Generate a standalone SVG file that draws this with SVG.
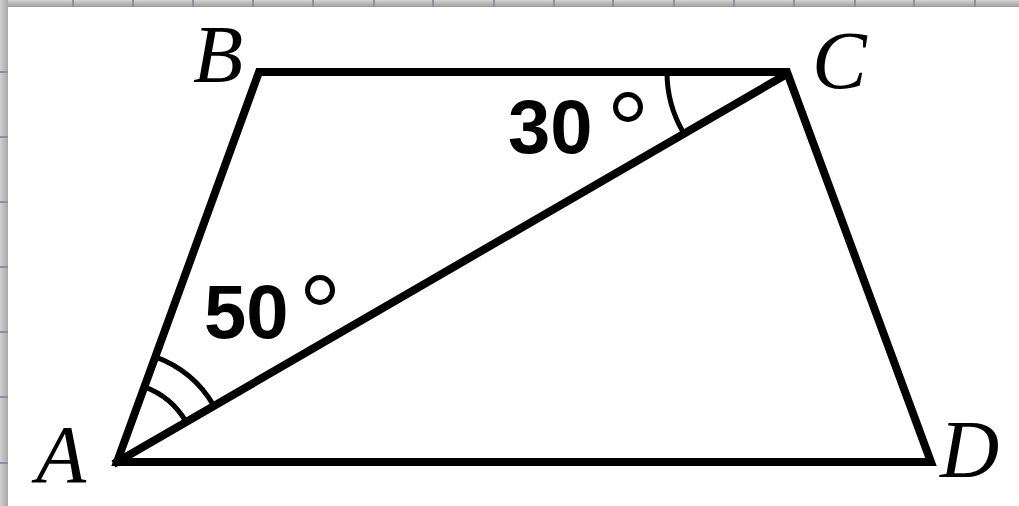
<svg xmlns="http://www.w3.org/2000/svg" width="1019" height="506" viewBox="0 0 1019 506">
  <defs>
    <linearGradient id="topg" x1="0" y1="0" x2="0" y2="1">
      <stop offset="0" stop-color="#d4d4d4"/>
      <stop offset="1" stop-color="#9c9c9c"/>
    </linearGradient>
    <linearGradient id="leftg" x1="0" y1="0" x2="1" y2="0">
      <stop offset="0" stop-color="#d0d0d0"/>
      <stop offset="1" stop-color="#a8a8a8"/>
    </linearGradient>
  </defs>
  <style>
    .edge { fill: none; stroke: #000; stroke-width: 8; stroke-linejoin: miter; stroke-linecap: square; }
    .arc { fill: none; stroke: #000; stroke-width: 5; }
    .lbl { font-family: "Liberation Serif", serif; font-style: italic; font-size: 82px; fill: #000; }
    .ang { font-family: "Liberation Sans", Arial, sans-serif; font-weight: bold; font-size: 76px; fill: #000; }
    .deg { fill: none; stroke: #000; stroke-width: 5; }
    .grid { stroke: #8a90a8; stroke-width: 2; }
  </style>
  <rect x="0" y="0" width="1019" height="506" fill="#ffffff"/>
  <g id="frame">
    <rect x="0" y="0" width="1019" height="7" fill="url(#topg)"/>
    <rect x="0" y="0" width="8" height="506" fill="url(#leftg)"/>
    <g class="grid">
      <line x1="73" y1="0" x2="73" y2="7"/><line x1="133" y1="0" x2="133" y2="7"/>
      <line x1="193" y1="0" x2="193" y2="7"/><line x1="253" y1="0" x2="253" y2="7"/>
      <line x1="313" y1="0" x2="313" y2="7"/><line x1="374" y1="0" x2="374" y2="7"/>
      <line x1="433" y1="0" x2="433" y2="7"/><line x1="494" y1="0" x2="494" y2="7"/>
      <line x1="554" y1="0" x2="554" y2="7"/><line x1="613" y1="0" x2="613" y2="7"/>
      <line x1="674" y1="0" x2="674" y2="7"/><line x1="734" y1="0" x2="734" y2="7"/>
      <line x1="794" y1="0" x2="794" y2="7"/><line x1="855" y1="0" x2="855" y2="7"/>
      <line x1="914" y1="0" x2="914" y2="7"/><line x1="975" y1="0" x2="975" y2="7"/>
      <line x1="0" y1="72" x2="8" y2="72"/><line x1="0" y1="137" x2="8" y2="137"/>
      <line x1="0" y1="202" x2="8" y2="202"/><line x1="0" y1="267" x2="8" y2="267"/>
      <line x1="0" y1="332" x2="8" y2="332"/><line x1="0" y1="397" x2="8" y2="397"/>
      <line x1="0" y1="463" x2="8" y2="463"/>
    </g>
  </g>
  <g id="connectors">
    <path class="edge" d="M117,462 L259,72 L787,72 L931,462 Z"/>
    <line class="edge" x1="117" y1="462" x2="787" y2="74"/>
  </g>
  <g id="angle-A">
    <path class="arc" d="M144.4,386.8 A80,80 0 0 1 186.2,422"/>
    <path class="arc" d="M155.3,356.8 A112,112 0 0 1 214,405.9"/>
  </g>
  <g id="angle-C">
    <path class="arc" d="M667,72 A120,120 0 0 0 683,132"/>
  </g>
  <g id="labels">
    <text class="lbl" x="193" y="82">B</text>
    <text class="lbl" x="812" y="88">C</text>
    <text class="lbl" x="36" y="482">A</text>
    <text class="lbl" x="940" y="477">D</text>
  </g>
  <g id="angle-labels">
    <text class="ang" x="508" y="153">30</text>
    <circle class="deg" cx="628" cy="107" r="12.5"/>
    <text class="ang" x="204" y="338">50</text>
    <circle class="deg" cx="320" cy="290" r="12.5"/>
  </g>
</svg>
